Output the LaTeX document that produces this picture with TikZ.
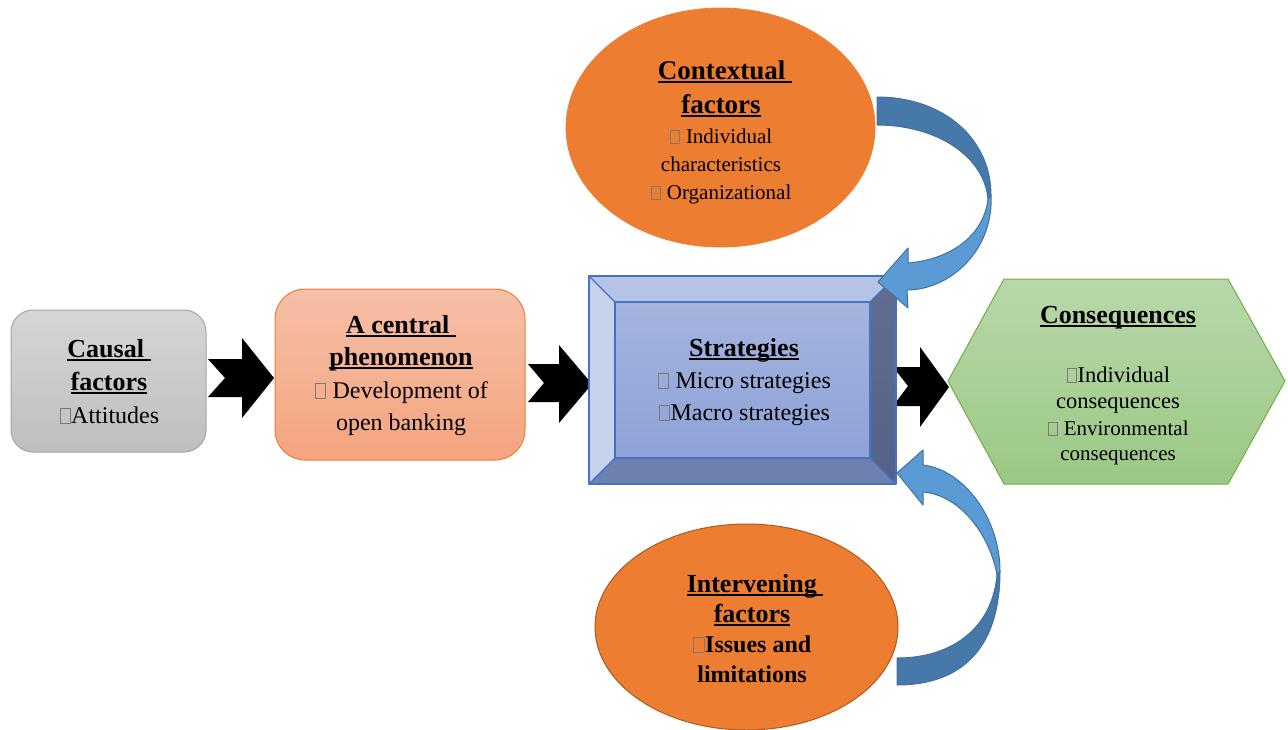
\documentclass[tikz,border=0pt]{standalone}
\usepackage{fontspec}
\setmainfont{Liberation Serif}
\usetikzlibrary{shapes.geometric}

\definecolor{grayTop}{HTML}{D6D6D6}
\definecolor{grayBot}{HTML}{BEBEBE}
\definecolor{grayLine}{HTML}{A5A5A5}
\definecolor{salTop}{HTML}{F6BFA7}
\definecolor{salBot}{HTML}{F4A47F}
\definecolor{orangeMain}{HTML}{ED7D31}
\definecolor{orangeDark}{HTML}{AE5A21}
\definecolor{blueLine}{HTML}{4472C4}
\definecolor{bevTop}{HTML}{B4C3E6}
\definecolor{bevLeft}{HTML}{C7D2EC}
\definecolor{bevRightT}{HTML}{636F8F}
\definecolor{bevRightB}{HTML}{54618A}
\definecolor{bevBot}{HTML}{6F7FAE}
\definecolor{faceTop}{HTML}{A5B4DE}
\definecolor{faceBot}{HTML}{8EA2D7}
\definecolor{greenTop}{HTML}{B8D8A9}
\definecolor{greenBot}{HTML}{9BC884}
\definecolor{greenLine}{HTML}{70AD47}
\definecolor{arrDark}{HTML}{4778AA}
\definecolor{arrLight}{HTML}{5B9BD5}
\definecolor{arrLine}{HTML}{41719C}
\definecolor{tofuGray}{HTML}{7A7A7A}

\newcommand\ulin[1]{\setbox0=\hbox{#1}\rlap{\rule[-4pt]{\wd0}{1.8pt}}\box0}
\newcommand\tofubox{{\color{tofuGray}\setlength{\fboxsep}{0pt}\setlength{\fboxrule}{0.7pt}\kern0.03em\fbox{\rule{0.4em}{0pt}\rule{0pt}{0.6em}}\kern0.03em}}

\tikzset{
  txt/.style={anchor=base, inner sep=0pt, outer sep=0pt},
  hd/.style={txt, font=\fontsize{26}{30}\selectfont\bfseries},
  bd/.style={txt, font=\fontsize{24}{30}\selectfont},
  blockarrow/.style={fill=black, draw=none},
  curveDark/.style={fill=arrDark, draw=arrLine, line width=1pt, line join=round},
  curveLight/.style={fill=arrLight, draw=arrLine, line width=1pt, line join=round},
  bevline/.style={draw=blueLine, line width=1.1pt, line join=round}
}

\begin{document}
\begin{tikzpicture}[x=1pt,y=-1pt]
\useasboundingbox (0,0) rectangle (1288,729);

% ---- block arrows (drawn first, under the boxes)
\path[blockarrow] (208,359) -- (242,359) -- (242,338) -- (274,378) -- (242,418) -- (242,397) -- (208,397) -- (225,378) -- cycle;
\path[blockarrow] (528,364) -- (559,364) -- (559,345) -- (592,384) -- (559,423) -- (559,402) -- (528,402) -- (544,383) -- cycle;
\path[blockarrow] (893,367) -- (920,367) -- (920,347) -- (949,387) -- (920,427) -- (920,406) -- (893,406) -- (908,386) -- cycle;

% ---- causal factors
\node[draw=grayLine, line width=1pt, top color=grayTop, bottom color=grayBot, rounded corners=22pt,
      minimum width=195pt, minimum height=142pt, inner sep=0pt] (causal) at (108.5,381) {};
% ---- central phenomenon
\node[draw=orangeMain, line width=1pt, top color=salTop, bottom color=salBot, rounded corners=30pt,
      minimum width=250pt, minimum height=171pt, inner sep=0pt] (central) at (400,374.5) {};

% ---- strategies (bevel box)
\coordinate (strat) at (742.5,380);
\fill[bevTop] (589,276) -- (896,276) -- (870,302) -- (615,302) -- cycle;
\fill[bevLeft] (589,276) -- (615,302) -- (615,458) -- (589,484) -- cycle;
\shade[top color=bevRightT, bottom color=bevRightB] (896,276) -- (896,484) -- (870,458) -- (870,302) -- cycle;
\fill[bevBot] (589,484) -- (896,484) -- (870,458) -- (615,458) -- cycle;
\shade[top color=faceTop, bottom color=faceBot] (615,302) rectangle (870,458);
\path[bevline] (589,276) rectangle (896,484);
\path[bevline] (615,302) rectangle (870,458);
\path[bevline] (589,276) -- (615,302) (589,484) -- (615,458) (896,276) -- (870,302) (896,484) -- (870,458);

% ---- consequences hexagon
\shade[top color=greenTop, bottom color=greenBot, draw=greenLine, line width=1pt, line join=round]
  (948,381) -- (1004,279) -- (1228,279) -- (1285,381) -- (1228,484) -- (1004,484) -- cycle;
\coordinate (cons) at (1116.5,381);

% ---- ellipses
\node[ellipse, fill=orangeMain, draw=orangeMain, line width=0.8pt, minimum width=309pt, minimum height=239pt, inner sep=0pt] (ctx) at (720.5,127.5) {};
\node[ellipse, fill=orangeMain, draw=orangeDark, line width=1pt, minimum width=303pt, minimum height=206pt, inner sep=0pt] (itv) at (746.5,627) {};

% ---- curved arrow top (contextual -> strategies)
\path[curveDark] (877,97) .. controls (945,97) and (991,140) .. (991,195)
   -- (988,199) .. controls (984,155) and (935,125) .. (877,125) -- cycle;
\path[curveLight] (991,195) .. controls (994,250) and (950,290) .. (907,290)
   -- (908,308) -- (878,282) -- (908,248) -- (908,263)
   .. controls (945,260) and (983,240) .. (988,199) -- cycle;

% ---- curved arrow bottom (intervening -> strategies)
\path[curveDark] (1000,571) .. controls (1000,650) and (960,685) .. (897,685)
   -- (897,658) .. controls (950,658) and (992,630) .. (997,575) -- cycle;
\path[curveLight] (923,465) .. controls (965,470) and (1000,520) .. (1000,571)
   -- (997,575) .. controls (990,535) and (960,495) .. (923,492)
   -- (923,505) -- (897,473) -- (923,450) -- cycle;

% ---- texts: causal factors
\node[hd] (cau1) at (109,357) {\ulin{Causal\ }};
\node[hd] (cau2) at (109,390) {\ulin{factors}};
\node[bd] (cau3) at (109,423) {\tofubox Attitudes};

% ---- texts: central phenomenon
\node[hd] (cen1) at (401,333) {\ulin{A central\ }};
\node[hd] (cen2) at (401,365) {\ulin{phenomenon}};
\node[bd] (cen3) at (401,398) {\tofubox\ Development of};
\node[bd] (cen4) at (401,430) {open banking};

% ---- texts: strategies
\node[hd] (str1) at (744,356) {\ulin{Strategies}};
\node[bd] (str2) at (744,388) {\tofubox\ Micro strategies};
\node[bd] (str3) at (744,420) {\tofubox Macro strategies};

% ---- texts: consequences
\node[hd] (con1) at (1118,323) {\ulin{Consequences}};
\node[txt, font=\fontsize{22.5}{26}\selectfont] (con2) at (1118,382) {\tofubox Individual};
\node[txt, font=\fontsize{22.5}{26}\selectfont] (con3) at (1118,408) {consequences};
\node[txt, font=\fontsize{21}{26}\selectfont] (con4) at (1118,435) {\tofubox\ Environmental};
\node[txt, font=\fontsize{21}{26}\selectfont] (con5) at (1118,460) {consequences};

% ---- texts: contextual factors
\node[txt, font=\fontsize{27}{30}\selectfont\bfseries] (ctx1) at (725,79) {\ulin{Contextual\ }};
\node[txt, font=\fontsize{27}{30}\selectfont\bfseries] (ctx2) at (721,113) {\ulin{factors}};
\node[txt, font=\fontsize{21}{26}\selectfont] (ctx3) at (721,143) {\tofubox\ Individual};
\node[txt, font=\fontsize{21}{26}\selectfont] (ctx4) at (721,171) {characteristics};
\node[txt, font=\fontsize{21}{26}\selectfont] (ctx5) at (721,199) {\tofubox\ Organizational};

% ---- texts: intervening factors
\node[hd] (itv1) at (755,592) {\ulin{Intervening\ }};
\node[hd] (itv2) at (752,622) {\ulin{factors}};
\node[txt, font=\fontsize{24}{30}\selectfont\bfseries] (itv3) at (752,652) {\tofubox Issues and};
\node[txt, font=\fontsize{24}{30}\selectfont\bfseries] (itv4) at (752,682) {limitations};
\end{tikzpicture}
\end{document}
